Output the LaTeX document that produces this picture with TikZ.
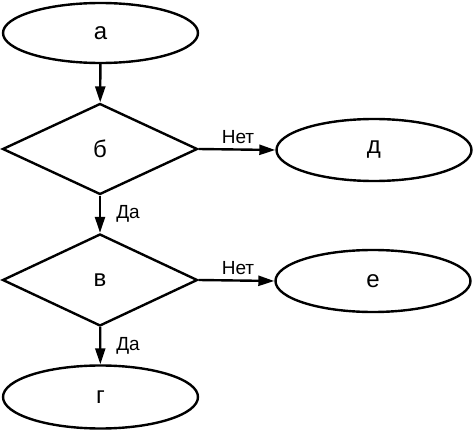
\documentclass[tikz,border=0pt]{standalone}
\usepackage{fontspec}
\setmainfont{Liberation Sans}
\usetikzlibrary{shapes.geometric,arrows.meta}
\tikzset{
  every picture/.style={x=1pt,y=-1pt},
  oval/.style={draw,ellipse,line width=2.4pt,inner sep=0pt,minimum width=195pt,minimum height=60pt,font=\fontsize{24}{24}\selectfont},
  cond/.style={draw,diamond,line width=2.4pt,inner sep=0pt,minimum width=195pt,minimum height=91pt,font=\fontsize{24}{24}\selectfont},
  flow/.style={line width=2.4pt,-{Triangle[length=16pt,width=10pt]}},
  lbl/.style={inner sep=0pt,font=\fontsize{19}{19}\selectfont}
}
\begin{document}
\begin{tikzpicture}
\useasboundingbox (0,0) rectangle (475,431);
\node[oval] (a) at (100.5,33) {а};
\node[cond] (b) at (100,149) {б};
\node[oval,minimum height=62pt] (d) at (374,150) {д};
\node[cond,minimum height=92pt] (v) at (100,280) {в};
\node[oval,minimum height=62pt] (e) at (373,281) {е};
\node[oval,minimum height=63pt] (g) at (100.5,397) {г};
\draw[flow] (a) -- (b);
\draw[flow] (b) -- (v);
\draw[flow] (v) -- (g);
\draw[flow] (b.east) -- (d.west);
\draw[flow] (v.east) -- (e.west);
\node[lbl] (n1) at (238,137) {Нет};
\node[lbl] (n2) at (238,268) {Нет};
\node[lbl] (y1) at (128,214) {Да};
\node[lbl] (y2) at (128,346) {Да};
\end{tikzpicture}
\end{document}
